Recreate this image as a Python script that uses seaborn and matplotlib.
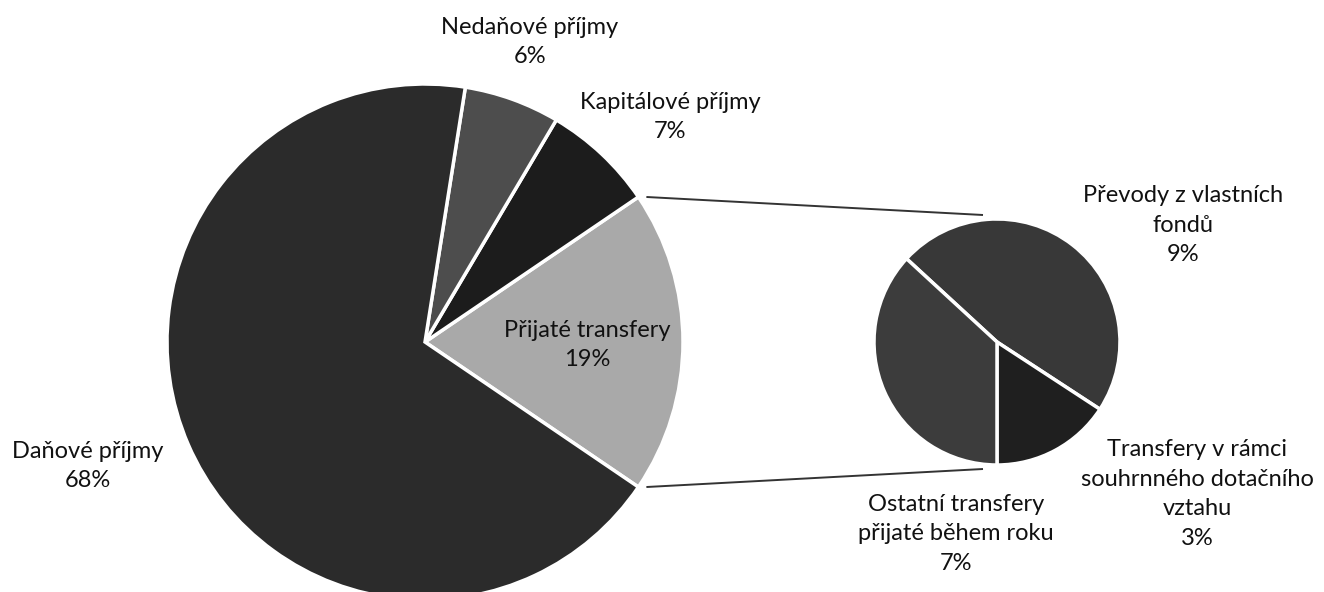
import matplotlib
matplotlib.use("Agg")
import matplotlib.pyplot as plt
import numpy as np
import seaborn as sns

# main pie (Přijaté transfery first, it is split into the second pie)
main_labels = ["Přijaté transfery", "Kapitálové příjmy", "Nedaňové příjmy", "Daňové příjmy"]
main_values = [19, 7, 6, 68]
main_colors = ["#a9a9a9", "#1c1c1c", "#4d4d4d", "#2b2b2b"]

# secondary pie, breakdown of Přijaté transfery
sub_labels = ["Převody z vlastních\nfondů", "Transfery v rámci\nsouhrnného dotačního\nvztahu",
              "Ostatní transfery\npřijaté během roku"]
sub_values = [9, 3, 7]
sub_colors = ["#383838", "#1f1f1f", "#3c3c3c"]

# label anchors in pixel space (x, y from top)
main_label_pos = [(587, 345), (670, 117), (530, 42), (88, 466)]
sub_label_pos = [(1183, 225), (1197, 494), (956, 534)]

W, H = 1324, 592
MAIN_C, MAIN_R = (425, H - 342), 258
SUB_C, SUB_R = (997, H - 342), 123

sns.set_theme(style="white")
plt.rcParams["font.family"] = ["Lato", "DejaVu Sans"]

fig = plt.figure(figsize=(W / 100, H / 100), dpi=100)
ax = fig.add_axes([0, 0, 1, 1])

total = sum(main_values)
start = -main_values[0] / total * 180
ax.pie(main_values, colors=main_colors, startangle=start, counterclock=True,
       center=MAIN_C, radius=MAIN_R, frame=True,
       wedgeprops=dict(edgecolor="white", linewidth=2.5))

sub_total = sum(sub_values)
sub_start = -90 + (sub_values[0] + sub_values[1]) / sub_total * 360
ax.pie(sub_values, colors=sub_colors, startangle=sub_start, counterclock=False,
       center=SUB_C, radius=SUB_R, frame=True,
       wedgeprops=dict(edgecolor="white", linewidth=2.5))

# connector lines from the split wedge to the secondary pie
half = np.deg2rad(main_values[0] / total * 180)
for sgn in (1, -1):
    x0 = MAIN_C[0] + MAIN_R * np.cos(half) + 8
    y0 = MAIN_C[1] + sgn * MAIN_R * np.sin(half)
    x1 = SUB_C[0] - 14
    y1 = SUB_C[1] + sgn * (SUB_R + 4)
    ax.plot([x0, x1], [y0, y1], color="#333333", lw=1.4, solid_capstyle="butt")

txt = dict(ha="center", va="center", fontsize=17, color="#111111", linespacing=1.5)
for lab, val, (x, y) in zip(main_labels, main_values, main_label_pos):
    ax.text(x, H - y, f"{lab}\n{val}%", **txt)
for lab, val, (x, y) in zip(sub_labels, sub_values, sub_label_pos):
    ax.text(x, H - y, f"{lab}\n{val}%", **txt)

ax.set_xlim(0, W)
ax.set_ylim(0, H)
ax.set_aspect("equal")
ax.axis("off")

fig.savefig("out.png", dpi=100, facecolor="white")
